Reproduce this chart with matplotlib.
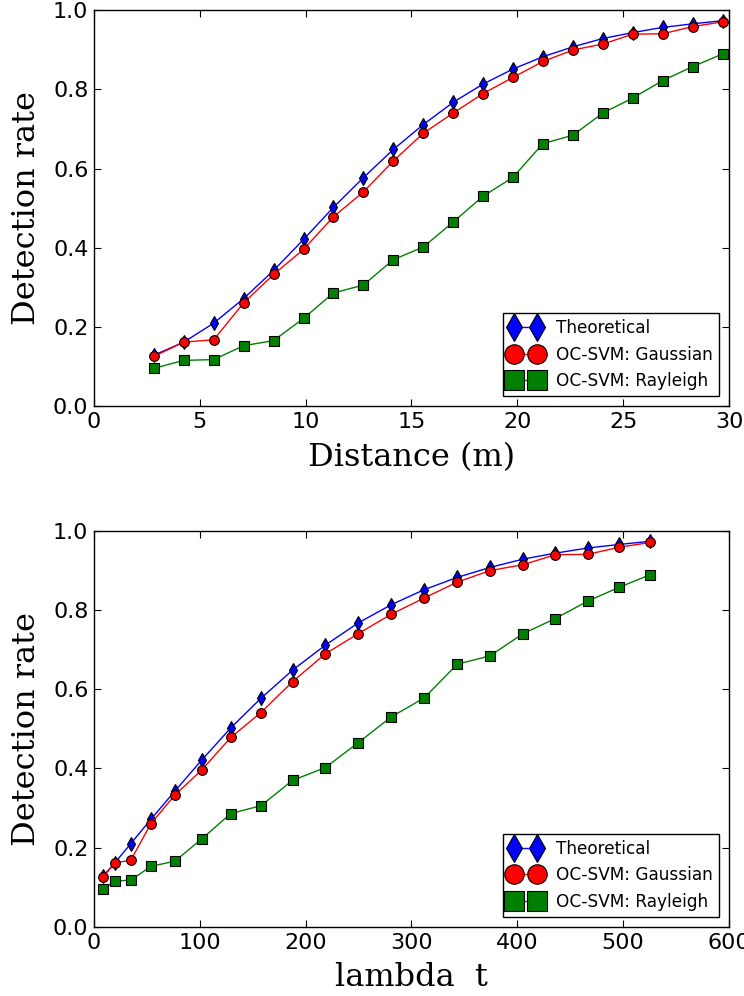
import matplotlib
matplotlib.use('Agg')
import matplotlib.pyplot as plt

# distance between nodes (m) and the matching lambda*t values
distance = [2.83, 4.24, 5.66, 7.07, 8.49, 9.90, 11.31, 12.73, 14.14, 15.56,
            16.97, 18.38, 19.80, 21.21, 22.63, 24.04, 25.46, 26.87, 28.28, 29.70]
lambda_t = [8.8, 19.8, 34.7, 53.9, 76.5, 101.8, 129.2, 157.8, 187.7, 218.6,
            249.7, 280.9, 312.1, 343.3, 374.2, 405.4, 435.9, 466.5, 496.4, 525.7]

theoretical = [0.129, 0.162, 0.210, 0.272, 0.343, 0.421, 0.502, 0.577, 0.648, 0.711,
               0.767, 0.813, 0.851, 0.882, 0.907, 0.928, 0.943, 0.956, 0.965, 0.973]
gaussian = [0.126, 0.162, 0.168, 0.261, 0.333, 0.396, 0.478, 0.541, 0.619, 0.689,
            0.740, 0.789, 0.830, 0.870, 0.899, 0.914, 0.939, 0.940, 0.958, 0.970]
rayleigh = [0.096, 0.116, 0.118, 0.153, 0.166, 0.222, 0.286, 0.306, 0.370, 0.402,
            0.465, 0.530, 0.578, 0.663, 0.684, 0.740, 0.778, 0.822, 0.857, 0.889]

series = [
    ('Theoretical', theoretical, 'b', 'd'),
    ('OC-SVM: Gaussian', gaussian, 'r', 'o'),
    ('OC-SVM: Rayleigh', rayleigh, 'g', 's'),
]

fig = plt.figure(figsize=(7.44, 9.96), dpi=100)
fig.patch.set_facecolor('white')

ax1 = fig.add_axes([0.1263, 0.592, 0.8535, 0.398])
ax2 = fig.add_axes([0.1263, 0.0693, 0.8535, 0.398])

panels = [
    (ax1, distance, (0, 30), 'Distance (m)'),
    (ax2, lambda_t, (0, 600), 'lambda  t'),
]

for ax, xs, xlim, xlabel in panels:
    for label, ys, color, marker in series:
        ax.plot(xs, ys, color=color, marker=marker, markersize=7,
                markeredgecolor='black', markeredgewidth=0.8,
                linewidth=1.0, label=label)
    ax.set_xlim(*xlim)
    ax.set_ylim(0, 1.0)
    ax.set_yticks([0.0, 0.2, 0.4, 0.6, 0.8, 1.0])
    ax.tick_params(direction='in', top=True, right=True, length=5,
                   width=0.8, labelsize=16, pad=4)
    for sp in ax.spines.values():
        sp.set_linewidth(1.0)
    ax.set_xlabel(xlabel, family='DejaVu Serif', fontsize=23, labelpad=7)
    ax.set_ylabel('Detection rate', family='DejaVu Serif', fontsize=23, labelpad=8)
    leg = ax.legend(loc='lower right', numpoints=2, markerscale=2.0,
                    fontsize=12.2, fancybox=False, framealpha=1.0,
                    borderaxespad=0.6, handlelength=2.0, labelspacing=0.5,
                    borderpad=0.35, handletextpad=0.8)
    leg.get_frame().set_edgecolor('black')
    leg.get_frame().set_linewidth(1.0)

fig.savefig('out.png', dpi=100, facecolor='white')
